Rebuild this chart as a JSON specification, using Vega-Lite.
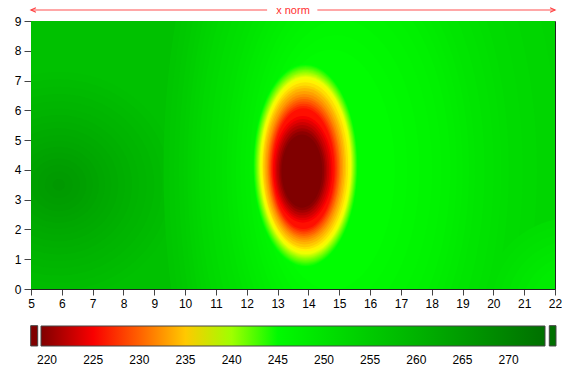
{
  "$schema": "https://vega.github.io/schema/vega-lite/v6.json",
  "width": 524,
  "height": 268,
  "autosize": {"type": "none"},
  "padding": {"left": 31, "top": 21, "right": 7, "bottom": 90},
  "background": "white",
  "config": {
    "view": {"stroke": "#222", "strokeWidth": 1},
    "axis": {"labelFont": "Liberation Sans", "labelFontSize": 12, "labelColor": "#000", "tickColor": "#444", "domainColor": "#222", "grid": false, "labelFlush": false, "labelOverlap": false},
    "axisX": {"tickSize": 6, "labelPadding": 3},
    "axisY": {"tickSize": 7, "labelPadding": 3}
  },
  "layer": [
    {
      "data": {"values": [{"x": 5, "x2": 22, "y": 0, "y2": 9, "v": 257}]},
      "mark": {"type": "rect"},
      "encoding": {
        "x": {"field": "x", "type": "quantitative", "title": null, "scale": {"domain": [5, 22], "nice": false, "zero": false}, "axis": {"values": [5,6,7,8,9,10,11,12,13,14,15,16,17,18,19,20,21,22], "labelOverlap": false, "title": null}},
        "x2": {"field": "x2"},
        "y": {"field": "y", "type": "quantitative", "title": null, "scale": {"domain": [0, 9], "nice": false, "zero": false}, "axis": {"values": [0,1,2,3,4,5,6,7,8,9], "labelOverlap": false, "title": null}},
        "y2": {"field": "y2"},
        "color": {"field": "v", "type": "quantitative",
          "scale": {"type": "linear", "domain": [219.35, 225.3, 237.6, 244, 273.94], "range": ["#800000", "#ff0000", "#ffff00", "#00ff00", "#007000"], "interpolate": "rgb", "clamp": true, "zero": false, "nice": false},
          "legend": {"orient": "none", "legendX": 10, "legendY": 305, "direction": "horizontal", "gradientLength": 504, "gradientThickness": 20, "values": [220,225,230,235,240,245,250,255,260,265,270], "title": null, "padding": 0, "labelOffset": 9, "gradientStrokeColor": "#444", "gradientStrokeWidth": 1, "labelFontSize": 12, "labelFont": "Liberation Sans", "labelColor": "#000"}}
      }
    },
    {
      "data": {"values": [
        {"x":5.9,"y":3.5,"r":3.85,"v":257.5},{"x":5.9,"y":3.5,"r":3.6,"v":258},{"x":5.9,"y":3.5,"r":3.35,"v":258.5},{"x":5.9,"y":3.5,"r":3.1,"v":259},{"x":5.9,"y":3.5,"r":2.85,"v":259.5},{"x":5.9,"y":3.5,"r":2.6,"v":260},{"x":5.9,"y":3.5,"r":2.38,"v":260.5},{"x":5.9,"y":3.5,"r":2.15,"v":261},{"x":5.9,"y":3.5,"r":1.93,"v":261.5},{"x":5.9,"y":3.5,"r":1.7,"v":262},{"x":5.9,"y":3.5,"r":1.5,"v":262.5},{"x":5.9,"y":3.5,"r":1.3,"v":263},{"x":5.9,"y":3.5,"r":1.1,"v":263.5},{"x":5.9,"y":3.5,"r":0.9,"v":264},{"x":5.9,"y":3.5,"r":0.68,"v":264.5},{"x":5.9,"y":3.5,"r":0.45,"v":265},{"x":5.9,"y":3.5,"r":0.2,"v":265.5}
      ]},
      "mark": {"type": "point", "shape": "M 1 0 C 1 0.5247 0.5523 0.95 0 0.95 C -0.5523 0.95 -1 0.5247 -1 0 C -1 -0.5247 -0.5523 -0.95 0 -0.95 C 0.5523 -0.95 1 -0.5247 1 0 Z", "filled": true, "opacity": 1, "strokeWidth": 0, "clip": true},
      "encoding": {
        "x": {"field": "x", "type": "quantitative", "title": null, "axis": {"values": [5,6,7,8,9,10,11,12,13,14,15,16,17,18,19,20,21,22], "labelOverlap": false, "title": null}},
        "y": {"field": "y", "type": "quantitative", "title": null, "axis": {"values": [0,1,2,3,4,5,6,7,8,9], "labelOverlap": false, "title": null}},
        "size": {"field": "r", "type": "quantitative", "scale": {"type": "pow", "exponent": 2, "domain": [0, 10], "range": [0, 380040], "zero": true, "nice": false}, "legend": null},
        "color": {"field": "v", "type": "quantitative"},
        "order": {"field": "r", "sort": "descending"}
      }
    },
    {
      "data": {"values": [
        {"x":17.65,"y":4,"r":8.35,"v":256},{"x":17.49,"y":4,"r":8.01,"v":255.5},{"x":17.33,"y":4,"r":7.68,"v":255},{"x":17.15,"y":4,"r":7.35,"v":254.5},{"x":16.98,"y":4,"r":7.03,"v":254},{"x":16.74,"y":4,"r":6.66,"v":253.5},{"x":16.5,"y":4,"r":6.3,"v":253},{"x":16.22,"y":4,"r":5.89,"v":252.5},{"x":15.93,"y":4,"r":5.48,"v":252},{"x":15.79,"y":4,"r":5.16,"v":251.5},{"x":15.65,"y":4,"r":4.85,"v":251},{"x":15.63,"y":4,"r":4.63,"v":250.5},{"x":15.6,"y":4,"r":4.4,"v":250},{"x":15.53,"y":4,"r":4.18,"v":249.5},{"x":15.45,"y":4,"r":3.95,"v":249},{"x":15.43,"y":4,"r":3.78,"v":248.5},{"x":15.4,"y":4,"r":3.6,"v":248},{"x":15.38,"y":4,"r":3.43,"v":247.5},{"x":15.35,"y":4,"r":3.25,"v":247},{"x":15.27,"y":4,"r":3.04,"v":246.5},{"x":15.18,"y":4,"r":2.83,"v":246},{"x":15.04,"y":4,"r":2.56,"v":245.5},{"x":14.9,"y":4,"r":2.3,"v":245},{"x":14.75,"y":4,"r":2.05,"v":244.5}
      ]},
      "mark": {"type": "point", "shape": "M 1 0 C 1 1.0494 0.5523 1.9 0 1.9 C -0.5523 1.9 -1 1.0494 -1 0 C -1 -1.0494 -0.5523 -1.9 0 -1.9 C 0.5523 -1.9 1 -1.0494 1 0 Z", "filled": true, "opacity": 1, "strokeWidth": 0, "clip": true},
      "encoding": {
        "x": {"field": "x", "type": "quantitative", "title": null, "axis": {"values": [5,6,7,8,9,10,11,12,13,14,15,16,17,18,19,20,21,22], "labelOverlap": false, "title": null}},
        "y": {"field": "y", "type": "quantitative", "title": null, "axis": {"values": [0,1,2,3,4,5,6,7,8,9], "labelOverlap": false, "title": null}},
        "size": {"field": "r", "type": "quantitative", "scale": {"type": "pow", "exponent": 2, "domain": [0, 10], "range": [0, 380040], "zero": true, "nice": false}, "legend": null},
        "color": {"field": "v", "type": "quantitative"},
        "order": {"field": "r", "sort": "descending"}
      }
    },
    {
      "data": {"values": [
        {"x":22.6,"y":-0.6,"r":2.9,"v":251},{"x":22.6,"y":-0.6,"r":2.65,"v":250.5},{"x":22.6,"y":-0.6,"r":2.4,"v":250},{"x":22.6,"y":-0.6,"r":2.15,"v":249.5},{"x":22.6,"y":-0.6,"r":1.9,"v":249},{"x":22.6,"y":-0.6,"r":1.65,"v":248.5},{"x":22.6,"y":-0.6,"r":1.4,"v":248}
      ]},
      "mark": {"type": "point", "shape": "M 1 0 C 1 0.5523 0.5523 1 0 1 C -0.5523 1 -1 0.5523 -1 0 C -1 -0.5523 -0.5523 -1 0 -1 C 0.5523 -1 1 -0.5523 1 0 Z", "filled": true, "opacity": 1, "strokeWidth": 0, "clip": true},
      "encoding": {
        "x": {"field": "x", "type": "quantitative", "title": null, "axis": {"values": [5,6,7,8,9,10,11,12,13,14,15,16,17,18,19,20,21,22], "labelOverlap": false, "title": null}},
        "y": {"field": "y", "type": "quantitative", "title": null, "axis": {"values": [0,1,2,3,4,5,6,7,8,9], "labelOverlap": false, "title": null}},
        "size": {"field": "r", "type": "quantitative", "scale": {"type": "pow", "exponent": 2, "domain": [0, 10], "range": [0, 380040], "zero": true, "nice": false}, "legend": null},
        "color": {"field": "v", "type": "quantitative"},
        "order": {"field": "r", "sort": "descending"}
      }
    },
    {
      "data": {"values": [
        {"x":13.91,"y":4.15,"r":1.69,"v":244},{"x":13.91,"y":4.15,"r":1.672,"v":243.5},{"x":13.91,"y":4.15,"r":1.654,"v":243},{"x":13.91,"y":4.15,"r":1.636,"v":242.5},{"x":13.91,"y":4.15,"r":1.618,"v":242},{"x":13.91,"y":4.15,"r":1.6,"v":241.5},{"x":13.91,"y":4.15,"r":1.582,"v":241},{"x":13.91,"y":4.15,"r":1.564,"v":240.5},{"x":13.91,"y":4.15,"r":1.546,"v":240},{"x":13.91,"y":4.15,"r":1.528,"v":239.5},{"x":13.91,"y":4.15,"r":1.51,"v":239},{"x":13.91,"y":4.15,"r":1.492,"v":238.5},{"x":13.91,"y":4.15,"r":1.474,"v":238},{"x":13.91,"y":4.15,"r":1.433,"v":237},{"x":13.9,"y":4.14,"r":1.389,"v":236},{"x":13.88,"y":4.12,"r":1.345,"v":235},{"x":13.88,"y":4.12,"r":1.301,"v":234},{"x":13.87,"y":4.11,"r":1.256,"v":233},{"x":13.87,"y":4.1,"r":1.212,"v":232},{"x":13.86,"y":4.09,"r":1.173,"v":231},{"x":13.86,"y":4.08,"r":1.139,"v":230},{"x":13.85,"y":4.07,"r":1.105,"v":229},{"x":13.85,"y":4.06,"r":1.071,"v":228},{"x":13.84,"y":4.05,"r":1.038,"v":227},{"x":13.84,"y":4.04,"r":1.004,"v":226}
      ]},
      "mark": {"type": "point", "shape": "M 1 0 C 1 1.077 0.5523 1.95 0 1.95 C -0.5523 1.95 -1 1.077 -1 0 C -1 -1.077 -0.5523 -1.95 0 -1.95 C 0.5523 -1.95 1 -1.077 1 0 Z", "filled": true, "opacity": 1, "strokeWidth": 0, "clip": true},
      "encoding": {
        "x": {"field": "x", "type": "quantitative", "title": null, "axis": {"values": [5,6,7,8,9,10,11,12,13,14,15,16,17,18,19,20,21,22], "labelOverlap": false, "title": null}},
        "y": {"field": "y", "type": "quantitative", "title": null, "axis": {"values": [0,1,2,3,4,5,6,7,8,9], "labelOverlap": false, "title": null}},
        "size": {"field": "r", "type": "quantitative", "scale": {"type": "pow", "exponent": 2, "domain": [0, 10], "range": [0, 380040], "zero": true, "nice": false}, "legend": null},
        "color": {"field": "v", "type": "quantitative"},
        "order": {"field": "r", "sort": "descending"}
      }
    },
    {
      "data": {"values": [
        {"x":13.82,"y":4.02,"r":0.962,"v":225},{"x":13.82,"y":4.01,"r":0.914,"v":224},{"x":13.81,"y":4.0,"r":0.864,"v":223},{"x":13.8,"y":3.99,"r":0.814,"v":222},{"x":13.8,"y":3.98,"r":0.763,"v":221},{"x":13.8,"y":3.97,"r":0.713,"v":220},{"x":13.79,"y":3.96,"r":0.66,"v":219}
      ]},
      "mark": {"type": "point", "shape": "M 1 0 C 1 0.9941 0.5523 1.8 0 1.8 C -0.5523 1.8 -1 0.9941 -1 0 C -1 -0.9941 -0.5523 -1.8 0 -1.8 C 0.5523 -1.8 1 -0.9941 1 0 Z", "filled": true, "opacity": 1, "strokeWidth": 0, "clip": true},
      "encoding": {
        "x": {"field": "x", "type": "quantitative", "title": null, "axis": {"values": [5,6,7,8,9,10,11,12,13,14,15,16,17,18,19,20,21,22], "labelOverlap": false, "title": null}},
        "y": {"field": "y", "type": "quantitative", "title": null, "axis": {"values": [0,1,2,3,4,5,6,7,8,9], "labelOverlap": false, "title": null}},
        "size": {"field": "r", "type": "quantitative", "scale": {"type": "pow", "exponent": 2, "domain": [0, 10], "range": [0, 380040], "zero": true, "nice": false}, "legend": null},
        "color": {"field": "v", "type": "quantitative"},
        "order": {"field": "r", "sort": "descending"}
      }
    },
    {
      "data": {"values": [{"x": 4.99, "x2": 5.217, "y": -1.232, "y2": -1.914, "v": 218}, {"x": 21.815, "x2": 22.032, "y": -1.232, "y2": -1.914, "v": 275}]},
      "mark": {"type": "rect", "stroke": "#444", "strokeWidth": 1},
      "encoding": {
        "x": {"field": "x", "type": "quantitative", "title": null, "axis": {"values": [5,6,7,8,9,10,11,12,13,14,15,16,17,18,19,20,21,22], "labelOverlap": false, "title": null}},
        "x2": {"field": "x2"},
        "y": {"field": "y", "type": "quantitative", "title": null, "axis": {"values": [0,1,2,3,4,5,6,7,8,9], "labelOverlap": false, "title": null}},
        "y2": {"field": "y2"},
        "color": {"field": "v", "type": "quantitative"}
      }
    },
    {
      "data": {"values": [{"a": 5, "b": 12.66}, {"a": 14.29, "b": 22}]},
      "mark": {"type": "rule", "color": "#ff5050", "strokeWidth": 1.2},
      "encoding": {
        "x": {"field": "a", "type": "quantitative", "title": null, "axis": {"values": [5,6,7,8,9,10,11,12,13,14,15,16,17,18,19,20,21,22], "labelOverlap": false, "title": null}},
        "x2": {"field": "b"},
        "y": {"datum": 9.37, "type": "quantitative", "axis": {"values": [0,1,2,3,4,5,6,7,8,9], "labelOverlap": false, "title": null}}
      }
    },
    {
      "data": {"values": [{"x": 5, "d": "l"}, {"x": 22, "d": "r"}]},
      "mark": {"type": "point", "filled": false, "size": 20, "strokeWidth": 1.2, "opacity": 1, "color": "#ff4040"},
      "encoding": {
        "x": {"field": "x", "type": "quantitative", "title": null, "axis": {"values": [5,6,7,8,9,10,11,12,13,14,15,16,17,18,19,20,21,22], "labelOverlap": false, "title": null}},
        "y": {"datum": 9.37, "type": "quantitative", "axis": {"values": [0,1,2,3,4,5,6,7,8,9], "labelOverlap": false, "title": null}},
        "shape": {"field": "d", "type": "nominal", "scale": {"domain": ["l", "r"], "range": ["M 2.2 -1 L 0 0 L 2.2 1", "M -2.2 -1 L 0 0 L -2.2 1"]}, "legend": null}
      }
    },
    {
      "data": {"values": [{"x": 13.5, "t": "x norm"}]},
      "mark": {"type": "text", "color": "#ff3030", "fontSize": 11, "font": "Liberation Sans", "baseline": "middle", "align": "center", "dy": 1},
      "encoding": {
        "x": {"field": "x", "type": "quantitative", "title": null, "axis": {"values": [5,6,7,8,9,10,11,12,13,14,15,16,17,18,19,20,21,22], "labelOverlap": false, "title": null}},
        "y": {"datum": 9.37, "type": "quantitative", "axis": {"values": [0,1,2,3,4,5,6,7,8,9], "labelOverlap": false, "title": null}},
        "text": {"field": "t"}
      }
    }
  ]
}
